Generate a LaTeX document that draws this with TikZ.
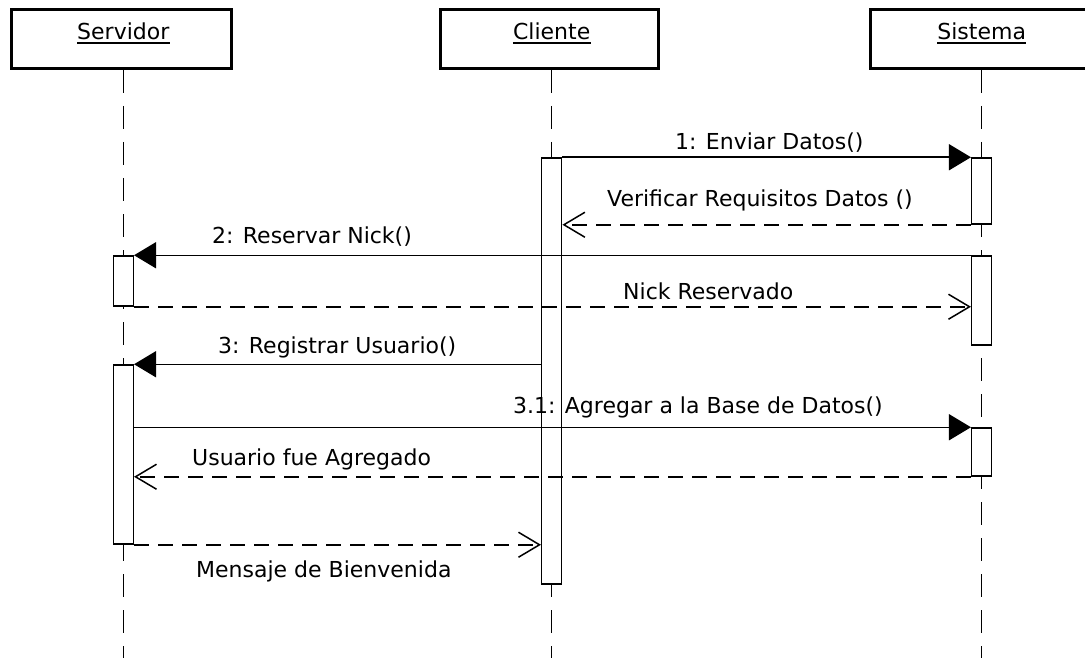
\documentclass[tikz,border=0pt]{standalone}
\usepackage{fontspec}
\setmainfont{DejaVu Sans}
\usetikzlibrary{arrows.meta}
\begin{document}
\begin{tikzpicture}[x=1pt,y=-1pt,
  every node/.style={font=\fontsize{22}{26}\selectfont},
  head/.style={draw, line width=3pt, minimum width=220pt, minimum height=59pt, inner sep=0pt},
  life/.style={line width=1.5pt, dash pattern=on 23pt off 13pt},
  bar/.style={draw, fill=white, line width=1.5pt, minimum width=20pt, inner sep=0pt},
  call/.style={line width=1.5pt, -{Triangle[length=22pt,width=26pt]}},
  reply/.style={line width=1.5pt, dash pattern=on 15pt off 9pt, -{Straight Barb[length=21pt,width=25pt]}},
  uline/.style={line width=1.4pt},
  lbl/.style={anchor=base west, inner sep=0pt}]
\useasboundingbox (0,0) rectangle (1085,658);
\clip (0,0) rectangle (1085,658);
% heads
\node[head] (srvbox) at (121.5,39) {};
\node[head, minimum width=218pt] (clibox) at (549.5,39) {};
\node[head] (sisbox) at (980.5,39) {};
\node[anchor=base, inner sep=0pt] (srvname) at (123.3,40) {Servidor};
\node[anchor=base, inner sep=0pt] (cliname) at (551.7,40) {Cliente};
\node[anchor=base, inner sep=0pt] (sisname) at (981.7,40) {Sistema};
\draw[uline] ([yshift=-3pt]srvname.base west) -- ([yshift=-3pt]srvname.base east);
\draw[uline] ([yshift=-3pt]cliname.base west) -- ([yshift=-3pt]cliname.base east);
\draw[uline] ([yshift=-3pt]sisname.base west) -- ([yshift=-3pt]sisname.base east);
% lifelines
\coordinate (srvend) at (123.3,660);
\coordinate (cliend) at (551.7,660);
\coordinate (sisend) at (981.7,660);
\draw[life] (srvname |- srvbox.south) -- (srvend);
\draw[life] (cliname |- clibox.south) -- (cliend);
\draw[life] (sisname |- sisbox.south) -- (sisend);
% activation bars
\node[bar, minimum height=426pt] (cb) at (551.7,371) {};
\node[bar, minimum height=66pt] (sb1) at (981.7,191) {};
\node[bar, minimum height=89pt] (sb2) at (981.7,300.5) {};
\node[bar, minimum height=48pt] (sb3) at (981.7,452) {};
\node[bar, minimum height=50pt] (vb1) at (123.3,281) {};
\node[bar, minimum height=179pt] (vb2) at (123.3,454.5) {};
% messages
\draw[call] (cb.north east) -- (sb1.north west);
\draw[reply] (sb1.south west) -- (cb.east |- sb1.south);
\draw[call] (sb2.north west) -- (vb1.north east);
\draw[reply] (vb1.south east) -- (sb2.west |- vb1.south);
\draw[call] (cb.west |- vb2.north) -- (vb2.north east);
\draw[call] (vb2.east |- sb3.north) -- (sb3.north west);
\draw[reply] (sb3.south west) -- (vb2.east |- sb3.south);
\draw[reply] (vb2.south east) -- (cb.west |- vb2.south);
% labels
\node[lbl] (l1) at (675,150) {1: Enviar Datos()};
\node[lbl] (l2) at (607,207) {Verificar Requisitos Datos ()};
\node[lbl] (l3) at (212,243) {2: Reservar Nick()};
\node[lbl] (l4) at (623,299) {Nick Reservado};
\node[lbl] (l5) at (218,353) {3: Registrar Usuario()};
\node[lbl] (l6) at (513,413) {3.1: Agregar a la Base de Datos()};
\node[lbl] (l7) at (192,465) {Usuario fue Agregado};
\node[lbl] (l8) at (196,577) {Mensaje de Bienvenida};
\end{tikzpicture}
\end{document}
